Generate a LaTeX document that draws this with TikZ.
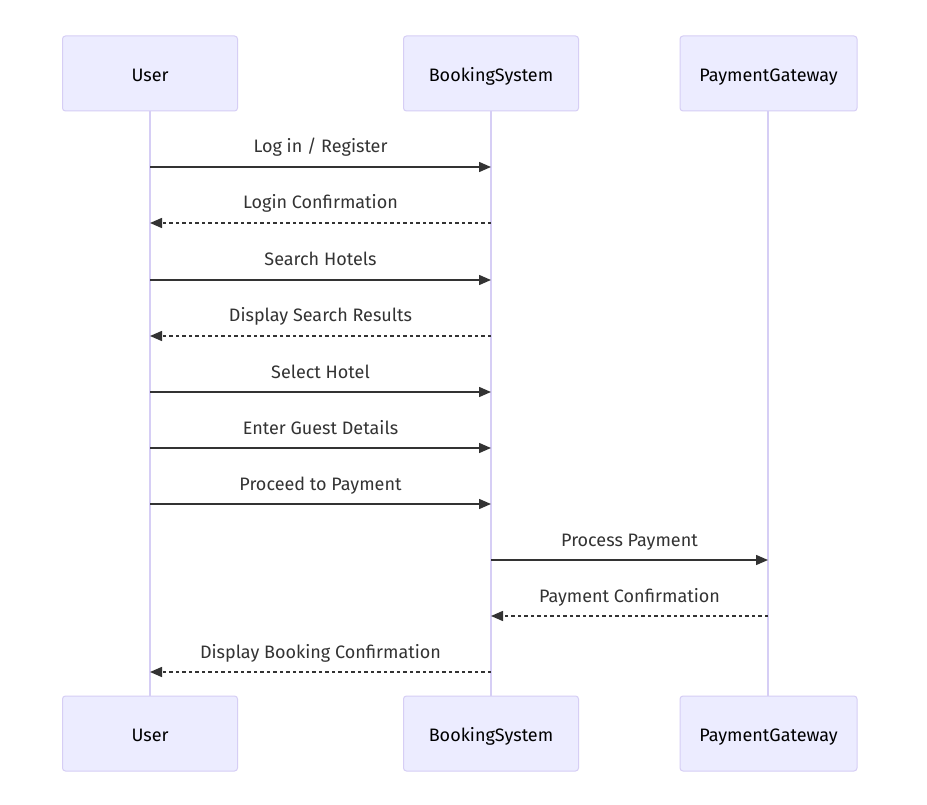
\documentclass[tikz,border=0pt]{standalone}
\usepackage{fontspec}
\setmainfont{Fira Sans}
\usetikzlibrary{arrows.meta}
\definecolor{actfill}{HTML}{ECECFF}
\definecolor{actline}{HTML}{D6CEF5}
\definecolor{txt}{HTML}{333333}
\tikzset{
  actor/.style={draw=actline, fill=actfill, line width=1pt, rounded corners=3pt,
    minimum width=175pt, minimum height=75pt},
  atext/.style={font=\fontsize{18pt}{20pt}\selectfont, text=black, inner sep=0pt, anchor=base},
  life/.style={draw=actline, line width=2pt},
  msg/.style={draw=txt, line width=1.5pt, -{Triangle[length=12pt,width=10pt]}},
  reply/.style={msg, dash pattern=on 3.5pt off 3pt},
  lbl/.style={font=\fontsize{18pt}{20pt}\selectfont, text=txt, inner sep=0pt, anchor=base, yshift=14pt}
}
\begin{document}
\begin{tikzpicture}[x=1pt,y=-1pt]
\useasboundingbox[fill=white] (0,0) rectangle (927,805);
% lifelines
\coordinate (uT) at (150,111); \coordinate (uB) at (150,696);
\coordinate (bT) at (491,111); \coordinate (bB) at (491,696);
\coordinate (pT) at (768,111); \coordinate (pB) at (768,696);
\draw[life] (uT) -- (uB);
\draw[life] (bT) -- (bB);
\draw[life] (pT) -- (pB);
% actors
\node[actor] (u1) at (150,73.5) {};
\node[actor] (b1) at (491,73.5) {};
\node[actor, minimum width=177pt] (p1) at (768.5,73.5) {};
\node[actor] (u2) at (150,733.5) {};
\node[actor] (b2) at (491,733.5) {};
\node[actor, minimum width=177pt] (p2) at (768.5,733.5) {};
\node[atext] (tu1) at (150,81.5) {User};
\node[atext] (tb1) at (491,81.5) {BookingSystem};
\node[atext] (tp1) at (768.5,81.5) {PaymentGateway};
\node[atext] (tu2) at (150,741.5) {User};
\node[atext] (tb2) at (491,741.5) {BookingSystem};
\node[atext] (tp2) at (768.5,741.5) {PaymentGateway};
% message endpoints
\foreach \i/\y in {1/167,2/223,3/280,4/336,5/392,6/448,7/504,8/560,9/616,10/672}{
  \coordinate (u\i) at (150,\y);
  \coordinate (b\i) at (491,\y);
  \coordinate (p\i) at (768,\y);
}
\draw[msg] (u1) -- node[lbl] {Log in / Register} (b1);
\draw[reply] (b2) -- node[lbl] {Login Confirmation} (u2);
\draw[msg] (u3) -- node[lbl] {Search Hotels} (b3);
\draw[reply] (b4) -- node[lbl] {Display Search Results} (u4);
\draw[msg] (u5) -- node[lbl] {Select Hotel} (b5);
\draw[msg] (u6) -- node[lbl] {Enter Guest Details} (b6);
\draw[msg] (u7) -- node[lbl] {Proceed to Payment} (b7);
\draw[msg] (b8) -- node[lbl] {Process Payment} (p8);
\draw[reply] (p9) -- node[lbl] {Payment Confirmation} (b9);
\draw[reply] (b10) -- node[lbl] {Display Booking Confirmation} (u10);
\end{tikzpicture}
\end{document}
